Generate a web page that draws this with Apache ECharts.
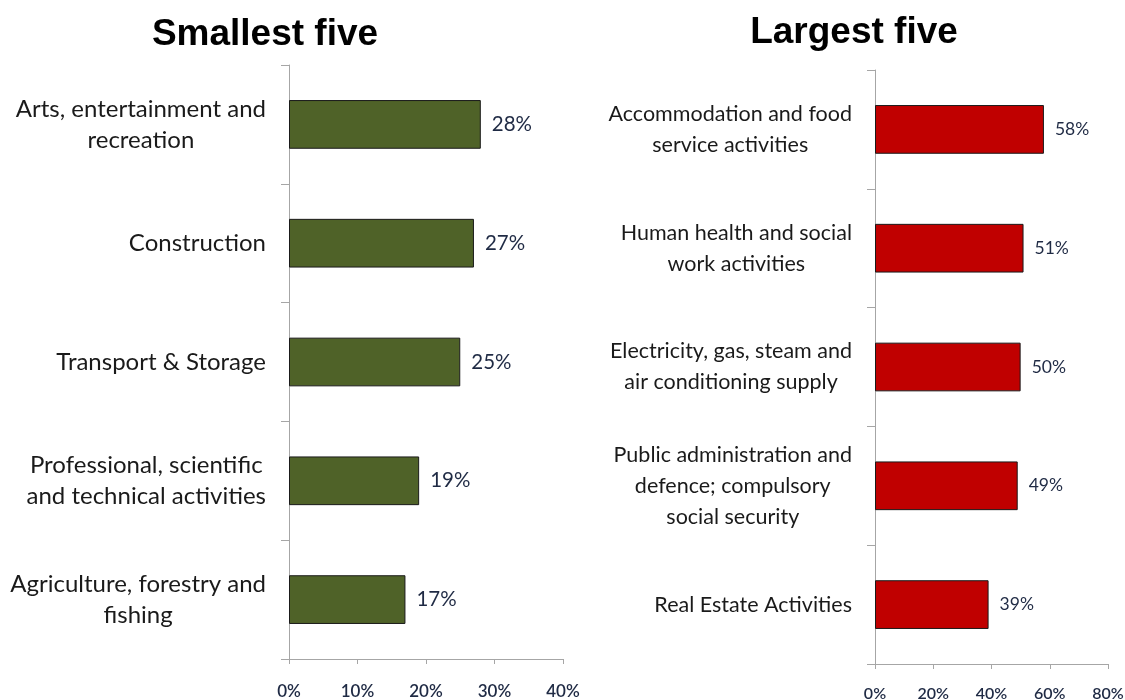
<!DOCTYPE html>
<html>
<head>
<meta charset="utf-8">
<script src="https://cdn.jsdelivr.net/npm/echarts@6/dist/echarts.min.js"></script>
<style>
  html, body { margin: 0; padding: 0; background: #fff; }
  #chart { width: 1125px; height: 700px; }
</style>
</head>
<body>
<div id="chart"></div>
<script>
// Sectors with the smallest and largest shares (top to bottom)
const smallCategories = [
  'Arts, entertainment and\nrecreation',
  'Construction',
  'Transport & Storage',
  'Professional, scientific\nand technical activities',
  'Agriculture, forestry and\nfishing'
];
const smallValues = [28, 27, 25, 19, 17];

const largeCategories = [
  'Accommodation and food\nservice activities',
  'Human health and social\nwork activities',
  'Electricity, gas, steam and\nair conditioning supply',
  'Public administration and\ndefence; compulsory\nsocial security',
  'Real Estate Activities'
];
const largeValues = [58, 51, 50, 49, 39];

const smallTicks = [0, 10, 20, 30, 40];
const largeTicks = [0, 20, 40, 60, 80];

const FONT = 'Lato, "Open Sans", sans-serif';
const axisGrey = '#a6a6a6';

function valueAxis(gridIndex, ticks, labelSize, labelMargin) {
  return {
    type: 'value',
    gridIndex: gridIndex,
    min: ticks[0],
    max: ticks[ticks.length - 1],
    interval: ticks[1] - ticks[0],
    axisLine: { show: true, lineStyle: { color: axisGrey, width: 1 } },
    axisTick: { show: true, length: 5, lineStyle: { color: axisGrey } },
    splitLine: { show: false },
    axisLabel: {
      formatter: '{value}%',
      fontFamily: FONT,
      fontSize: labelSize,
      fontWeight: 600,
      color: '#1f2a44',
      margin: labelMargin
    }
  };
}

// each line of a wrapped label is centred inside a right-aligned block
function centredLines(value) {
  return value.split('\n').map(function (line) { return '{c|' + line + '}'; }).join('\n');
}

function categoryAxis(gridIndex, cats, labelSize) {
  return {
    type: 'category',
    gridIndex: gridIndex,
    data: cats,
    inverse: true,
    axisLine: { show: true, lineStyle: { color: axisGrey, width: 1 } },
    axisTick: { show: true, length: 8, inside: false, lineStyle: { color: axisGrey } },
    axisLabel: {
      formatter: centredLines,
      align: 'right',
      margin: 23,
      rich: {
        c: {
          align: 'center',
          fontFamily: FONT,
          fontSize: labelSize,
          lineHeight: 31,
          color: '#1a1a1a'
        }
      }
    }
  };
}

function barSeries(idx, values, color, labelSize) {
  return {
    type: 'bar',
    xAxisIndex: idx,
    yAxisIndex: idx,
    data: values,
    barWidth: '41%',
    itemStyle: { color: color, borderColor: '#1a1a1a', borderWidth: 1 },
    label: {
      show: true,
      position: 'right',
      distance: 11,
      formatter: '{c}%',
      fontFamily: FONT,
      fontSize: labelSize,
      color: '#1f2a44'
    },
    silent: true
  };
}

const chart = echarts.init(document.getElementById('chart'), null, { renderer: 'canvas' });
chart.setOption({
  backgroundColor: '#ffffff',
  animation: false,
  title: [
    {
      text: 'Smallest five',
      left: 260, top: 11, textAlign: 'center',
      textStyle: { fontFamily: 'Liberation Sans, Arial, sans-serif', fontWeight: 'bold', fontSize: 37, color: '#000' }
    },
    {
      text: 'Largest five',
      left: 849, top: 9, textAlign: 'center',
      textStyle: { fontFamily: 'Liberation Sans, Arial, sans-serif', fontWeight: 'bold', fontSize: 37, color: '#000' }
    }
  ],
  grid: [
    { left: 289, right: 562, top: 65, bottom: 41, containLabel: false, outerBoundsMode: 'none' },
    { left: 875, right: 17, top: 70, bottom: 36, containLabel: false, outerBoundsMode: 'none' }
  ],
  xAxis: [valueAxis(0, smallTicks, 17, 24), valueAxis(1, largeTicks, 16, 22)],
  yAxis: [categoryAxis(0, smallCategories, 24), categoryAxis(1, largeCategories, 21.5)],
  series: [
    barSeries(0, smallValues, '#4f6228', 20.5),
    barSeries(1, largeValues, '#c00000', 17.5)
  ]
});
</script>
</body>
</html>
